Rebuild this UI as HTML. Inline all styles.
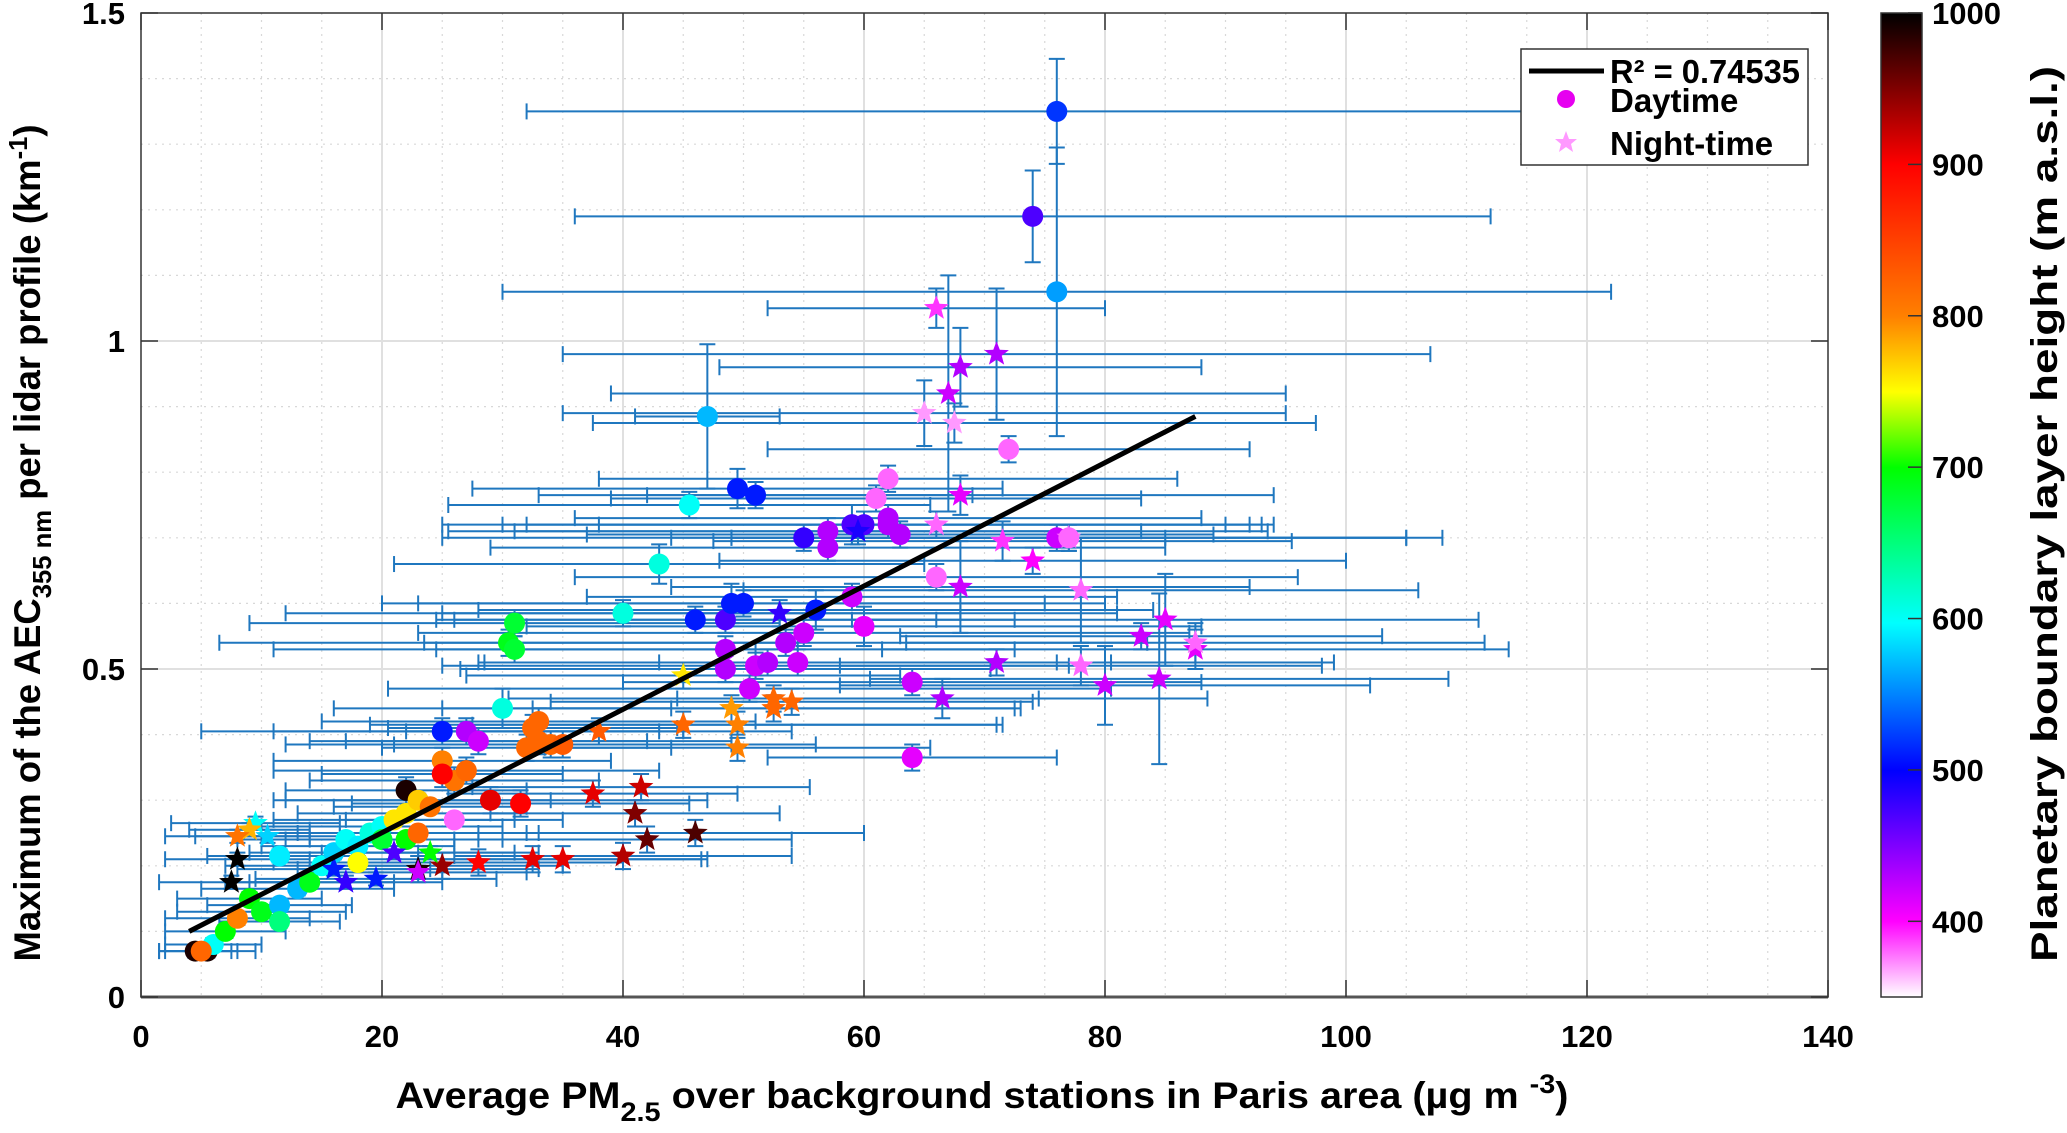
<!DOCTYPE html>
<html><head><meta charset="utf-8"><style>
html,body{margin:0;padding:0;background:#fff;}
svg{display:block;font-family:"Liberation Sans",Arial,sans-serif;font-weight:bold;}
</style></head><body>
<svg id="chart" width="2067" height="1133" viewBox="0 0 2067 1133" xmlns="http://www.w3.org/2000/svg">
<defs>
<linearGradient id="cbgrad" x1="0" y1="1" x2="0" y2="0">
<stop offset="0" stop-color="#ffffff"/>
<stop offset="0.077" stop-color="#ff00ff"/>
<stop offset="0.23" stop-color="#0000ff"/>
<stop offset="0.38" stop-color="#00ffff"/>
<stop offset="0.538" stop-color="#00ff00"/>
<stop offset="0.615" stop-color="#ffff00"/>
<stop offset="0.692" stop-color="#ff8000"/>
<stop offset="0.846" stop-color="#ff0000"/>
<stop offset="1" stop-color="#000000"/>
</linearGradient>
</defs>
<g id="grid"></g>
<g id="errs"></g>
<g id="marks"></g>
<g id="axes"></g>
<text transform="translate(40,543) rotate(-90)" text-anchor="middle" font-size="37" textLength="837" lengthAdjust="spacingAndGlyphs">Maximum of the AEC<tspan font-size="26" dy="11">355 nm</tspan><tspan dy="-11"> per lidar profile (km</tspan><tspan font-size="26" dy="-13">-1</tspan><tspan dy="13">)</tspan></text>
<text x="982" y="1108" text-anchor="middle" font-size="37" textLength="1173" lengthAdjust="spacingAndGlyphs">Average PM<tspan font-size="27" dy="13">2.5</tspan><tspan dy="-13"> over background stations in Paris area (µg m </tspan><tspan font-size="27" dy="-15">-3</tspan><tspan dy="15">)</tspan></text>
<g>
<rect x="1521" y="49" width="287" height="116" fill="#fff" stroke="#333" stroke-width="1.5"/>
<line x1="1529" y1="71" x2="1604" y2="71" stroke="#000" stroke-width="5"/>
<text x="1610" y="83" font-size="33" textLength="190" lengthAdjust="spacingAndGlyphs">R² = 0.74535</text>
<circle cx="1566" cy="99" r="9" fill="#e600f0"/>
<text x="1610" y="112" font-size="33">Daytime</text>
<polygon points="1566,131 1569,139 1577,139 1571,144 1573,152 1566,147 1559,152 1561,144 1555,139 1563,139" fill="#ff99ff"/>
<text x="1610" y="155" font-size="33">Night-time</text>
</g>
<g>
<rect x="1881" y="13" width="41" height="984" fill="url(#cbgrad)" stroke="#333" stroke-width="1.5"/>
<g id="cbticks"></g>
<text transform="translate(2057,514) rotate(-90)" text-anchor="middle" font-size="37" textLength="896" lengthAdjust="spacingAndGlyphs">Planetary boundary layer height (m a.s.l.)</text>
</g>
</svg>
<script>
const xTicks=[0,20,40,60,80,100,120,140];
const yTicks=[0,0.5,1,1.5];
const yTickLabels=["0","0.5","1","1.5"];
const cbTicks=[400,500,600,700,800,900,1000];
const pmX=[76,74,76,47,45.5,49.5,51,43,40,31,30.5,31,30,25,27,28,32.5,33,33,34,35,32,25,26,27,25,29,31.5,22,46,48.5,49,50,56,48.5,48.5,50.5,51,52,53.5,54.5,55,55,57,57,59,60,59,60,62,62,63,62,61,64,64,66,72,76,77,4.5,5.5,6,5,7,8,9,10,11.5,11.5,11.5,13,14,15,16,17,18,19,20,18,20,21,22,23,24,26,22,23];
const aecY=[1.35,1.19,1.075,0.885,0.75,0.775,0.765,0.66,0.585,0.57,0.54,0.53,0.44,0.405,0.405,0.39,0.41,0.42,0.39,0.385,0.385,0.38,0.36,0.33,0.345,0.34,0.3,0.295,0.315,0.575,0.575,0.6,0.6,0.59,0.53,0.5,0.47,0.505,0.51,0.54,0.51,0.555,0.7,0.71,0.685,0.72,0.72,0.61,0.565,0.73,0.72,0.705,0.79,0.76,0.48,0.365,0.64,0.835,0.7,0.7,0.07,0.07,0.08,0.07,0.1,0.12,0.15,0.13,0.14,0.115,0.215,0.165,0.175,0.2,0.22,0.24,0.23,0.25,0.26,0.205,0.24,0.27,0.28,0.3,0.29,0.27,0.24,0.25];
const xErr=[44,38,46,6,20,22,18,22,28,22,24,20,14,20,16,14,12,18,16,22,14,12,14,12,16,10,18,14,10,20,24,26,30,28,24,22,30,26,24,30,26,32,30,26,28,34,30,22,28,26,30,26,24,22,24,12,30,20,32,28,3,4,4,3,5,6,6,7,6,5,6,8,7,8,7,9,8,9,10,7,8,10,9,11,8,9,8,10];
const yErr=[0.08,0.07,0.22,0.11,0.02,0.03,0.02,0.03,0.02,0.02,0.02,0.02,0.03,0.02,0.02,0.02,0.02,0.02,0.02,0.02,0.02,0.02,0.02,0.02,0.02,0.02,0.02,0.02,0.02,0.02,0.02,0.03,0.02,0.03,0.02,0.02,0.02,0.02,0.02,0.02,0.02,0.02,0.02,0.02,0.02,0.03,0.02,0.02,0.03,0.02,0.02,0.02,0.02,0.02,0.02,0.02,0.02,0.02,0.02,0.02,0.01,0.01,0.01,0.01,0.01,0.01,0.01,0.01,0.01,0.01,0.01,0.01,0.01,0.01,0.01,0.01,0.01,0.01,0.01,0.01,0.01,0.01,0.01,0.01,0.01,0.01,0.01,0.01];
const pblh=[520,470,560,570,600,510,510,610,610,680,690,680,610,510,430,420,820,820,820,820,830,820,800,810,820,900,910,900,990,510,470,510,510,510,430,430,420,420,430,430,420,420,480,430,430,470,470,420,410,430,430,430,380,380,420,410,380,380,420,380,990,990,600,820,700,800,700,690,570,650,590,570,690,600,580,600,590,610,600,750,680,760,760,770,810,380,700,820];
const nStar=[66,65,67,68,71,67.5,68,68,66.5,71,71.5,74,78,78,80,83,84.5,85,87.5,87.5,77,66,59.5,53,45,49,49.5,49.5,45,52.5,52.5,54,38,37.5,41.5,41,42,46,40,35,32.5,28,25,23,8,7.5,9.5,9,10.5,8,16,17,19.5,21,23,24];
const nStarY=[1.05,0.89,0.92,0.96,0.98,0.875,0.765,0.625,0.455,0.51,0.695,0.665,0.62,0.505,0.475,0.55,0.485,0.575,0.53,0.54,0.7,0.72,0.71,0.585,0.49,0.44,0.415,0.38,0.415,0.44,0.455,0.45,0.405,0.31,0.32,0.28,0.24,0.25,0.215,0.21,0.21,0.205,0.2,0.195,0.21,0.175,0.265,0.255,0.245,0.245,0.195,0.175,0.18,0.22,0.19,0.22];
const nXErr=[14,30,28,20,36,30,26,24,22,28,24,26,28,20,22,20,24,26,26,24,28,28,34,28,18,24,22,16,26,20,22,20,16,12,14,12,12,14,14,12,14,12,10,10,6,6,7,5,6,6,8,8,10,10,9,9];
const nYErr=[0.03,0.05,0.18,0.06,0.1,0.03,0.03,0.07,0.03,0.02,0.03,0.02,0.08,0.03,0.06,0.02,0.13,0.07,0.03,0.03,0.02,0.02,0.02,0.02,0.02,0.02,0.02,0.02,0.02,0.02,0.02,0.02,0.02,0.02,0.02,0.02,0.02,0.02,0.02,0.02,0.02,0.02,0.02,0.02,0.01,0.01,0.01,0.01,0.01,0.01,0.01,0.01,0.01,0.01,0.01,0.01];
const nPblh=[390,370,420,430,430,370,410,420,430,430,390,400,380,380,420,420,420,410,410,380,380,380,490,480,760,790,800,800,820,820,820,820,830,910,920,950,960,970,930,910,910,900,940,990,1000,1000,600,780,580,810,510,480,510,470,420,700];
const fitX=[4,87.5];
const fitY=[0.1,0.885];

const NS='http://www.w3.org/2000/svg';
const X0=141,X1=1828,Y0=997,Y1=13;
const sx=v=>X0+(v/140)*(X1-X0);
const sy=v=>Y0-(v/1.5)*(Y0-Y1);
const cy=v=>997-(v-350)/650*984;
function mk(t,a,p){const e=document.createElementNS(NS,t);for(const k in a)e.setAttribute(k,a[k]);p.appendChild(e);return e;}
const stops=[[350,[255,255,255]],[400,[255,0,255]],[500,[0,0,255]],[597,[0,255,255]],[700,[0,255,0]],[750,[255,255,0]],[800,[255,128,0]],[900,[255,0,0]],[1000,[0,0,0]]];
function cmap(v){for(let i=1;i<stops.length;i++){if(v<=stops[i][0]){const a=stops[i-1],b=stops[i];const t=(v-a[0])/(b[0]-a[0]);const c=a[1].map((q,j)=>Math.round(q+(b[1][j]-q)*t));return `rgb(${c})`;}}return 'rgb(0,0,0)';}
const grid=document.getElementById('grid');
for(let v=5;v<140;v+=5){const l=mk('line',{x1:sx(v),x2:sx(v),y1:Y1,y2:Y0,stroke:v%20?'#d8d8d8':'#e0e0e0','stroke-width':v%20?1.2:2,'stroke-dasharray':v%20?'2 5':''},grid);}
for(let v=0.1;v<1.5;v+=0.1){const maj=Math.abs(v-0.5)<1e-6||Math.abs(v-1)<1e-6;const l=mk('line',{x1:X0,x2:X1,y1:sy(v),y2:sy(v),stroke:maj?'#e0e0e0':'#d8d8d8','stroke-width':maj?2:1.2,'stroke-dasharray':maj?'':'2 5'},grid);}
const errs=document.getElementById('errs'),marks=document.getElementById('marks');
const EC='#1f77bf';
function eb(x,y,xe,ye){const g=mk('g',{stroke:EC,'stroke-width':2,fill:'none'},errs);

const a=sx(Math.max(0,x-xe)),b=sx(x+xe),py=sy(y);mk('line',{x1:a,x2:b,y1:py,y2:py},g);mk('line',{x1:a,x2:a,y1:py-8,y2:py+8},g);mk('line',{x1:b,x2:b,y1:py-8,y2:py+8},g);
const t=sy(y+ye),u=sy(y-ye),px=sx(x);mk('line',{x1:px,x2:px,y1:t,y2:u},g);mk('line',{x1:px-8,x2:px+8,y1:t,y2:t},g);mk('line',{x1:px-8,x2:px+8,y1:u,y2:u},g);}
function star(x,y,r){let p=[];for(let i=0;i<10;i++){const a=-Math.PI/2+i*Math.PI/5,rr=i%2?r*0.42:r;p.push((x+rr*Math.cos(a)).toFixed(1)+','+(y+rr*Math.sin(a)).toFixed(1));}return p.join(' ');}
pmX.forEach((x,i)=>eb(x,aecY[i],xErr[i],yErr[i]));
nStar.forEach((x,i)=>eb(x,nStarY[i],nXErr[i],nYErr[i]));
pmX.forEach((x,i)=>{const c=mk('circle',{cx:sx(x),cy:sy(aecY[i]),r:10.5,fill:cmap(pblh[i])},marks);});
nStar.forEach((x,i)=>{const s=mk('polygon',{points:star(sx(x),sy(nStarY[i]),13),fill:cmap(nPblh[i])},marks);});
const fl=mk('line',{x1:sx(fitX[0]),y1:sy(fitY[0]),x2:sx(fitX[1]),y2:sy(fitY[1]),stroke:'#000','stroke-width':5},marks);

const ax=document.getElementById('axes');
mk('rect',{x:X0,y:Y1,width:X1-X0,height:Y0-Y1,fill:'none',stroke:'#333','stroke-width':1.5},ax);
mk('line',{x1:X0,x2:X1,y1:Y0,y2:Y0,stroke:'#555','stroke-width':3},ax);
xTicks.forEach(v=>{const x=sx(v);mk('line',{x1:x,x2:x,y1:Y0,y2:Y0-17,stroke:'#333','stroke-width':1.5},ax);mk('line',{x1:x,x2:x,y1:Y1,y2:Y1+17,stroke:'#333','stroke-width':1.5},ax);
const t=mk('text',{x:x,y:1047,'text-anchor':'middle','font-size':31},ax);t.textContent=v;});
yTicks.forEach((v,i)=>{const y=sy(v);mk('line',{x1:X0,x2:X0+17,y1:y,y2:y,stroke:'#333','stroke-width':1.5},ax);mk('line',{x1:X1,x2:X1-17,y1:y,y2:y,stroke:'#333','stroke-width':1.5},ax);
const t=mk('text',{x:125,y:y+11,'text-anchor':'end','font-size':31},ax);t.textContent=yTickLabels[i];});
const cbt=document.getElementById('cbticks');
cbTicks.forEach(v=>{const y=cy(v);mk('line',{x1:1908,x2:1922,y1:y,y2:y,stroke:'#333','stroke-width':1.5},cbt);
const t=mk('text',{x:1932,y:y+11,'font-size':31},cbt);t.textContent=v;});
</script>
</body></html>
